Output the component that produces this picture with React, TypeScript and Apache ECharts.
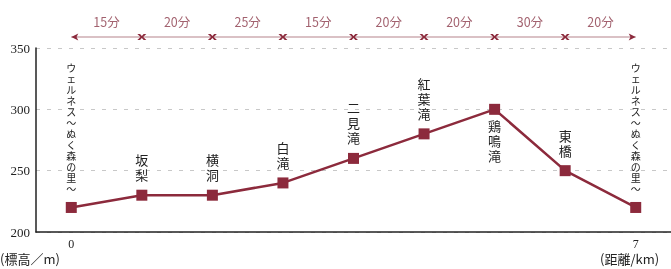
import React, { useEffect, useRef } from "react";
import * as echarts from "echarts";

const stations = ["ウェルネス〜ぬく森の里〜", "坂梨", "横洞", "白滝", "二見滝", "紅葉滝", "鶏鳴滝", "東橋", "ウェルネス〜ぬく森の里〜"];
const elevations = [220, 230, 230, 240, 260, 280, 300, 250, 220];
const distanceLabels = ["0", "", "", "", "", "", "", "", "7"];
const minutes = ["15分", "20分", "25分", "15分", "20分", "20分", "30分", "20分"];
const labelBelow = [false, false, false, false, false, false, true, false, false];
const yTicks = { min: 200, max: 350, interval: 50 };

const MAROON = "#8c2a3c";
const PALE = "#b5838b";

const X_PATH = "path://M0,0 L3,0 L5,2 L7,0 L10,0 L6.5,3 L10,6 L7,6 L5,4 L3,6 L0,6 L3.5,3 Z";
const LEFT_ARROW = "path://M10,0 L0,5 L10,10 L7.5,5 Z";
const RIGHT_ARROW = "path://M0,0 L10,5 L0,10 L2.5,5 Z";

export default function App() {
  const ref = useRef<HTMLDivElement>(null);
  useEffect(() => {
    if (!ref.current) return;
    const chart = echarts.init(ref.current, null, { renderer: "svg" });
    const n = stations.length;
    const arrowData = stations.map((_, i) => {
      if (i === 0) return { value: [i, 0.5], symbol: LEFT_ARROW, symbolSize: [7, 7], symbolOffset: [3.5, 0] };
      if (i === n - 1) return { value: [i, 0.5], symbol: RIGHT_ARROW, symbolSize: [7, 7], symbolOffset: [-3.5, 0] };
      return { value: [i, 0.5], symbol: X_PATH, symbolSize: [9, 6] };
    });
    const minuteData = minutes.map((m, i) => ({ value: [i + 0.5, 0.5], name: m }));
    const mainData = elevations.map((v, i) => {
      const isLong = stations[i].length > 4;
      return {
        value: v,
        label: {
          show: true,
          position: labelBelow[i] ? "bottom" : "top",
          distance: labelBelow[i] ? 3 : isLong ? 8 : 7.5,
          formatter: stations[i].split("").join("\n"),
          fontSize: isLong ? 10 : 13,
          lineHeight: isLong ? 11 : 15,
          color: "#222",
          fontFamily: "'Noto Sans CJK JP', sans-serif",
        },
      };
    });
    chart.setOption({
      animation: false,
      grid: [
        { left: 36, right: 0, top: 48, bottom: 37 },
        { left: 36, right: 0, top: 27, height: 20 },
      ],
      xAxis: [
        {
          type: "category",
          gridIndex: 0,
          data: stations,
          boundaryGap: true,
          axisLine: { lineStyle: { color: "#222", width: 1.5 } },
          axisTick: { alignWithLabel: true, inside: true, length: 4, lineStyle: { color: "#222", width: 1.5 } },
          axisLabel: {
            interval: 0,
            margin: 6,
            formatter: (_: string, i: number) => distanceLabels[i],
            fontFamily: "'Liberation Serif', serif",
            fontSize: 12,
            color: "#222",
          },
        },
        { type: "value", gridIndex: 1, min: -0.5, max: 8.5, show: false },
      ],
      yAxis: [
        {
          type: "value",
          gridIndex: 0,
          min: yTicks.min,
          max: yTicks.max,
          interval: yTicks.interval,
          axisLine: { show: true, lineStyle: { color: "#222", width: 1.5 } },
          axisTick: { show: false },
          axisLabel: { margin: 6, fontFamily: "'Liberation Serif', serif", fontSize: 13, color: "#222" },
          splitLine: { lineStyle: { color: "#c8c8c8", type: [4, 7], width: 1 } },
        },
        { type: "value", gridIndex: 1, min: 0, max: 1, show: false },
      ],
      series: [
        {
          type: "line",
          xAxisIndex: 0,
          yAxisIndex: 0,
          data: mainData,
          symbol: "rect",
          symbolSize: 11,
          lineStyle: { color: MAROON, width: 2.5 },
          itemStyle: { color: MAROON },
        },
        {
          type: "line",
          xAxisIndex: 1,
          yAxisIndex: 1,
          data: arrowData,
          lineStyle: { color: PALE, width: 1.2 },
          itemStyle: { color: MAROON },
        },
        {
          type: "scatter",
          xAxisIndex: 1,
          yAxisIndex: 1,
          data: minuteData,
          symbolSize: 1,
          itemStyle: { color: "rgba(0,0,0,0)" },
          label: {
            show: true,
            position: "inside",
            offset: [0, -16],
            formatter: (p: any) => p.name,
            fontSize: 12.5,
            color: "#8b3a4a",
            fontFamily: "'Noto Sans CJK JP', sans-serif",
          },
        },
      ],
      graphic: [
        {
          type: "text",
          x: 0,
          y: 252,
          style: { text: "(標高／m)", fontSize: 13, fill: "#222", fontFamily: "'Noto Sans CJK JP', sans-serif" },
        },
        {
          type: "text",
          x: 600,
          y: 252,
          style: { text: "(距離/km)", fontSize: 13, fill: "#222", fontFamily: "'Noto Sans CJK JP', sans-serif" },
        },
      ],
    });
    return () => chart.dispose();
  }, []);
  return <div ref={ref} style={{ width: 671, height: 269, position: "fixed", left: 0, top: 0 }} />;
}
